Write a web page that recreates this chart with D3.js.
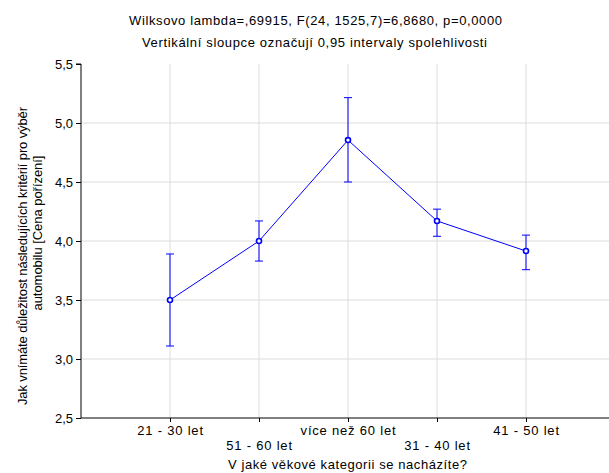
<!DOCTYPE html>
<html>
<head>
<meta charset="utf-8">
<script src="https://cdn.jsdelivr.net/npm/d3@7"></script>
<style>
  body { margin: 0; background: #fff; }
  text { font-family: "Liberation Sans", Arial, sans-serif; }
</style>
</head>
<body>
<div id="chart"></div>
<script>
// Data
const categories = ["21 - 30 let", "51 - 60 let", "více než 60 let", "31 - 40 let", "41 - 50 let"];
const means = [3.50, 4.00, 4.855, 4.17, 3.915];
const upper = [3.89, 4.17, 5.215, 4.27, 4.05];
const lower = [3.11, 3.83, 4.50, 4.04, 3.757];
const yTicks = [2.5, 3.0, 3.5, 4.0, 4.5, 5.0, 5.5];

const width = 609;
const height = 473;
const margin = { top: 64, right: -6, bottom: 55, left: 81 };

const svg = d3.select("#chart")
    .append("svg")
    .attr("width", width)
    .attr("height", height);

const xScale = d3.scalePoint()
    .domain(categories)
    .range([margin.left, width - margin.right])
    .padding(1);

const yScale = d3.scaleLinear()
    .domain([2.5, 5.5])
    .range([height - margin.bottom, margin.top]);

const fmt = d => d3.format(".1f")(d).replace(".", ",");

// Grid lines
svg.append("g")
    .selectAll("line")
    .data(yTicks.slice(1, -1))
    .enter().append("line")
    .attr("x1", margin.left)
    .attr("x2", width)
    .attr("y1", d => yScale(d))
    .attr("y2", d => yScale(d))
    .attr("stroke", "#dcdcdc");

svg.append("g")
    .selectAll("line")
    .data(categories)
    .enter().append("line")
    .attr("x1", d => xScale(d))
    .attr("x2", d => xScale(d))
    .attr("y1", margin.top)
    .attr("y2", height - margin.bottom)
    .attr("stroke", "#dcdcdc");

// Y axis
const yAxis = svg.append("g")
    .attr("transform", `translate(${margin.left},0)`)
    .call(d3.axisLeft(yScale).tickValues(yTicks).tickFormat(fmt).tickSize(5).tickPadding(3));
yAxis.select(".domain").attr("d", `M-5,${yScale(5.5)}H0V${yScale(2.5)}`);
yAxis.selectAll("text").style("font-size", "13px").attr("fill", "#000");

// X axis (labels staggered on two rows)
const xAxis = svg.append("g")
    .attr("transform", `translate(0,${height - margin.bottom})`)
    .call(d3.axisBottom(xScale).tickSize(4).tickSizeOuter(0));
xAxis.select(".domain").attr("d", `M${margin.left},0H${width}`);
xAxis.selectAll("text")
    .style("font-size", "13px")
    .style("letter-spacing", "0.8px")
    .attr("fill", "#000")
    .attr("y", (d, i) => i % 2 === 0 ? 8 : 23);

// Error bars
const bars = svg.append("g")
    .selectAll("g")
    .data(categories)
    .enter().append("g");

bars.append("line")
    .attr("x1", d => xScale(d))
    .attr("x2", d => xScale(d))
    .attr("y1", (d, i) => yScale(upper[i]))
    .attr("y2", (d, i) => yScale(lower[i]))
    .attr("stroke", "#0000ff");

bars.append("line")
    .attr("x1", d => xScale(d) - 4)
    .attr("x2", d => xScale(d) + 4)
    .attr("y1", (d, i) => yScale(upper[i]))
    .attr("y2", (d, i) => yScale(upper[i]))
    .attr("stroke", "#0000ff");

bars.append("line")
    .attr("x1", d => xScale(d) - 4)
    .attr("x2", d => xScale(d) + 4)
    .attr("y1", (d, i) => yScale(lower[i]))
    .attr("y2", (d, i) => yScale(lower[i]))
    .attr("stroke", "#0000ff");

// Mean line + markers
const line = d3.line()
    .x((d, i) => xScale(categories[i]))
    .y(d => yScale(d));

svg.append("path")
    .datum(means)
    .attr("d", line)
    .attr("fill", "none")
    .attr("stroke", "#0000ff")
    .attr("stroke-width", 1);

svg.append("g")
    .selectAll("circle")
    .data(means)
    .enter().append("circle")
    .attr("cx", (d, i) => xScale(categories[i]))
    .attr("cy", d => yScale(d))
    .attr("r", 2.5)
    .attr("fill", "#fff")
    .attr("stroke", "#0000ff")
    .attr("stroke-width", 1.6);

// Titles
function label(x, y, str, len) {
    return svg.append("text")
        .attr("x", x)
        .attr("y", y)
        .attr("text-anchor", "middle")
        .attr("textLength", len)
        .attr("lengthAdjust", "spacing")
        .style("font-size", "13px")
        .text(str);
}

label(315.5, 25, "Wilksovo lambda=,69915, F(24, 1525,7)=6,8680, p=0,0000", 373);
label(314.5, 47, "Vertikální sloupce označují 0,95 intervaly spolehlivosti", 345);
label(347.5, 469, "V jaké věkové kategorii se nacházíte?", 239);

const yLabel = svg.append("g");
yLabel.append("text")
    .attr("transform", "translate(27,256) rotate(-90)")
    .attr("text-anchor", "middle")
    .attr("textLength", 298)
    .attr("lengthAdjust", "spacing")
    .style("font-size", "13px")
    .text("Jak vnímáte důležitost následujících kritérií pro výběr");
yLabel.append("text")
    .attr("transform", "translate(42,233) rotate(-90)")
    .attr("text-anchor", "middle")
    .attr("textLength", 155)
    .attr("lengthAdjust", "spacing")
    .style("font-size", "13px")
    .text("automobilu [Cena pořízení]");
</script>
</body>
</html>
